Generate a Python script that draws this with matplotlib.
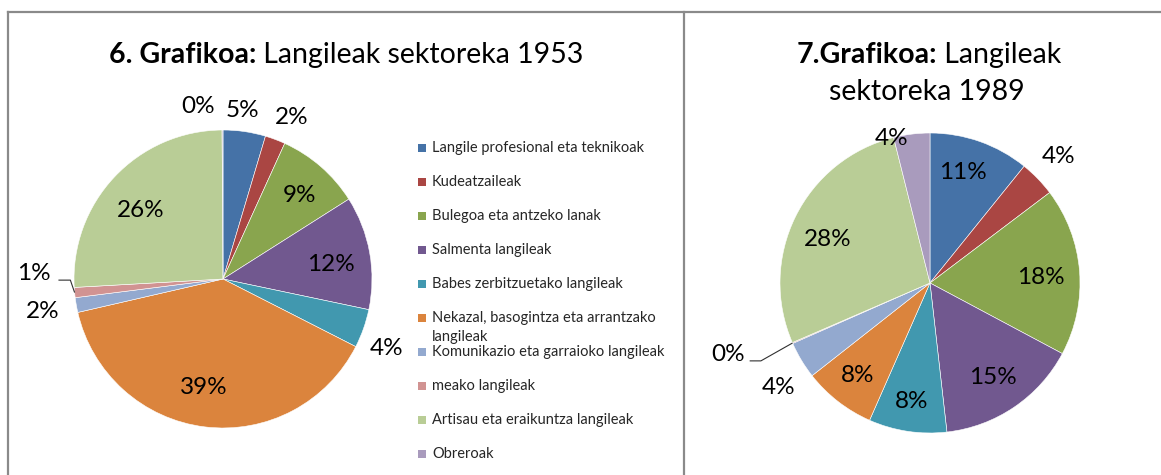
import numpy as np
import matplotlib
matplotlib.use("Agg")
import matplotlib.pyplot as plt
from matplotlib.lines import Line2D
from matplotlib.patches import Rectangle

plt.rcParams['font.family'] = ['Lato', 'DejaVu Sans']

# ---------------- data ----------------
categories = [
    "Langile profesional eta teknikoak",
    "Kudeatzaileak",
    "Bulegoa eta antzeko lanak",
    "Salmenta langileak",
    "Babes zerbitzuetako langileak",
    "Nekazal, basogintza eta arrantzako\nlangileak",
    "Komunikazio eta garraioko langileak",
    "meako langileak",
    "Artisau eta eraikuntza langileak",
    "Obreroak",
]
values_1953 = [4.6, 2.2, 9.2, 12.3, 4.2, 38.9, 1.6, 1.1, 25.8, 0.1]
values_1989 = [10.8, 3.9, 18.1, 15.4, 8.4, 7.8, 4.0, 0.1, 27.6, 3.9]
colors = ["#4572A7", "#AA4643", "#89A54E", "#71588F", "#4198AF",
          "#DB843D", "#93A9CF", "#D19392", "#B9CD96", "#A99BBD"]

# label placement styles (radius factor, angular nudge clockwise in degrees)
lab1_r = [1.14, 1.18, 0.76, 0.73, 1.19, 0.74, 1.23, 1.27, 0.72, 1.17]
lab1_n = [-1.6, 2.5, 1.5, 2.8, 3.6, 3.0, 0.0, 7.0, -3.3, -8.1]
lab2_r = [0.77, 1.20, 0.74, 0.76, 0.80, 0.78, 1.23, 1.43, 0.74, 1.00]
lab2_n = [-2.7, -0.5, 1.5, 0.6, 0.0, 0.2, -3.6, 4.0, -3.4, -8.0]

W, H = 1161, 475
fig = plt.figure(figsize=(W / 100, H / 100), dpi=100)
fig.patch.set_facecolor("white")


def px(x, y):
    return x / W, 1 - y / H


# frame lines
gray = "#8a8a8a"
fig.add_artist(Line2D([8 / W, 1.0], [1 - 12 / H, 1 - 12 / H], color=gray, lw=1.6))
fig.add_artist(Line2D([8 / W, 8 / W], [0, 1 - 12 / H], color=gray, lw=1.6))
fig.add_artist(Line2D([684 / W, 684 / W], [0, 1 - 12 / H], color=gray, lw=1.6))


def draw_pie(cx, cy, r, values, lab_r, lab_n, leader_idx, leader_off):
    S = 240
    ax = fig.add_axes([(cx - S) / W, (H - cy - S) / H, 2 * S / W, 2 * S / H])
    wedges, _ = ax.pie(values, colors=colors, startangle=90, counterclock=False,
                       radius=1.0, wedgeprops=dict(edgecolor="white", linewidth=0.4))
    ax.set_xlim(-S / r, S / r)
    ax.set_ylim(-S / r, S / r)
    ax.set_aspect("equal")
    ax.axis("off")
    for i, w in enumerate(wedges):
        mid = (w.theta1 + w.theta2) / 2.0 - lab_n[i]
        t = np.deg2rad(mid)
        lx, ly = lab_r[i] * np.cos(t), lab_r[i] * np.sin(t)
        ax.text(lx, ly, f"{round(values[i])}%", ha="center", va="center",
                fontsize=17.5, color="black")
        if i == leader_idx:
            tm = np.deg2rad((w.theta1 + w.theta2) / 2.0)
            ex, ey = np.cos(tm), np.sin(tm)
            endx, endy = lx + leader_off[0], ly + leader_off[1]
            elx = endx + leader_off[2]
            ax.plot([endx, elx, ex], [endy, endy, ey], color="#303030", lw=0.8,
                    solid_capstyle="butt")
    return ax


draw_pie(223, 279, 149, values_1953, lab1_r, lab1_n, 7, (0.165, -0.047, 0.08))
draw_pie(930, 283, 150, values_1989, lab2_r, lab2_n, 7, (0.145, -0.04, 0.075))

# titles with bold prefix
renderer = fig.canvas.get_renderer()


def rich_title(parts, cx, baseline_y, size):
    texts = []
    for s, wgt in parts:
        t = fig.text(0, 1 - baseline_y / H, s, fontsize=size, fontweight=wgt,
                     ha="left", va="baseline", color="black")
        texts.append(t)
    widths = [t.get_window_extent(renderer).width for t in texts]
    total = sum(widths)
    x = cx - total / 2
    for t, wd in zip(texts, widths):
        t.set_x(x / W)
        x += wd


rich_title([("6. Grafikoa:", "bold"), ("\u00a0Langileak sektoreka 1953", "normal")], 346, 63, 20.5)
rich_title([("7.Grafikoa:", "bold"), ("\u00a0Langileak", "normal")], 929, 63, 20.5)
rich_title([("sektoreka 1989", "normal")], 927, 100, 20.5)

# legend
lx0, ly0, step = 418, 148, 34
for i, (name, c) in enumerate(zip(categories, colors)):
    yc = ly0 + step * i
    fig.add_artist(Rectangle(px(lx0, yc + 4), 8 / W, 8 / H, facecolor=c,
                             edgecolor="none", transform=fig.transFigure))
    for j, line in enumerate(name.split("\n")):
        fig.text(432 / W, 1 - (yc + 19 * j) / H, line, fontsize=10.5,
                 ha="left", va="center", color="#262626")

fig.savefig("out.png", dpi=100, facecolor="white")
